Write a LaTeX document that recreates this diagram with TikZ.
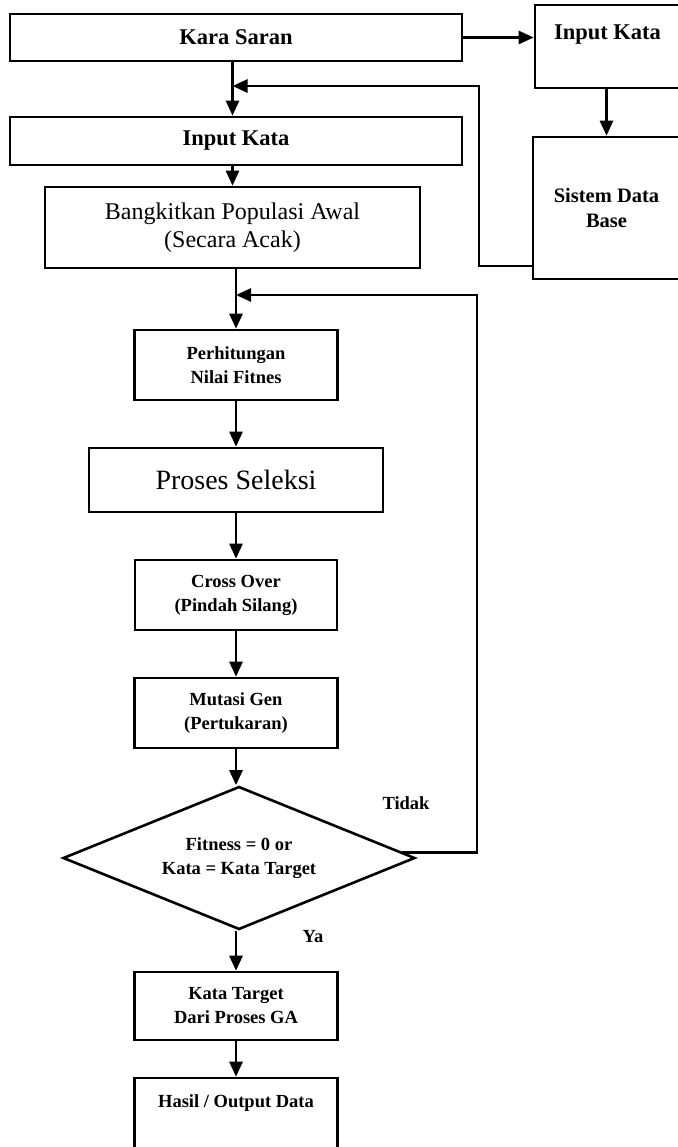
\documentclass[tikz,border=0pt]{standalone}
\usepackage{fontspec}
\setmainfont{Liberation Serif}
\usetikzlibrary{shapes.geometric,arrows.meta}
\begin{document}
\begin{tikzpicture}[x=1pt,y=-1pt,line width=2.6pt,
	kotak/.style={draw,inner sep=0pt,align=center},
	besar/.style={font=\bfseries\fontsize{22.5}{27}\selectfont},
	sedang/.style={font=\fontsize{24}{28}\selectfont},
	kecil/.style={font=\bfseries\fontsize{18.5}{24}\selectfont},
	panah/.style={-{Triangle[length=15pt,width=13pt]}}]
		\useasboundingbox (0,0) rectangle (677,1147);
		\node[kotak,besar,minimum width=452,minimum height=47] (kara) at (236,37.5) {Kara Saran};
		\node[kotak,besar,minimum width=145,text height=35pt,text depth=48pt,anchor=base] (inputb) at (607.5,40) {Input Kata};
		\node[kotak,font=\bfseries\fontsize{20.5}{25}\selectfont,minimum width=147,minimum height=142] (sistem) at (606.5,208) {Sistem Data\\Base};
		\node[kotak,besar,minimum width=452,minimum height=48] (inputa) at (236,141) {Input Kata};
		\node[kotak,sedang,minimum width=375,minimum height=81] (bangkit) at (232.5,227.5) {Bangkitkan Populasi Awal\\(Secara Acak)};
		\node[kotak,kecil,minimum width=203,minimum height=70] (hitung) at (236,365) {Perhitungan\\Nilai Fitnes};
		\node[kotak,font=\fontsize{28}{32}\selectfont,minimum width=294,minimum height=64] (seleksi) at (236,480) {Proses Seleksi};
		\node[kotak,kecil,minimum width=202,minimum height=70] (cross) at (236,595) {Cross Over\\(Pindah Silang)};
		\node[kotak,kecil,minimum width=203,minimum height=70] (mutasi) at (236,713) {Mutasi Gen\\(Pertukaran)};
		\node[kotak,kecil,diamond,aspect=2.46,minimum width=352,minimum height=143] (keputusan) at (239,858) {Fitness = 0 or\\Kata = Kata Target};
		\node[kotak,kecil,minimum width=203,minimum height=68] (target) at (236,1006) {Kata Target\\Dari Proses GA};
		\node[kotak,kecil,minimum width=203,text height=29pt,text depth=43pt,anchor=base] (hasil) at (236,1107) {Hasil / Output Data};
		\node[kecil] (tidak) at (406,803) {Tidak};
		\node[kecil] (ya) at (313,937) {Ya};
		\draw[panah] (kara.east) -- (inputb.west |- kara.east);
		\draw[panah] (sistem.north |- inputb.south) -- (sistem.north);
		\draw[panah] (bangkit.north |- kara.south) -- (bangkit.north |- inputa.north);
		\draw[panah] (bangkit.north |- inputa.south) -- (bangkit.north);
		\draw[panah] (hitung.north |- bangkit.south) -- (hitung.north);
		\draw[panah] (hitung) -- (seleksi);
		\draw[panah] (seleksi) -- (cross);
		\draw[panah] (cross) -- (mutasi);
		\draw[panah] (mutasi.south) -- (mutasi.south |- keputusan.north);
		\draw[panah] (target.north |- keputusan.south) -- (target.north);
		\draw[panah] (target) -- (hasil);
		\coordinate (atas) at (479,86);
		\draw[panah] (sistem.west |- 0,266) -| (atas) -- (bangkit.north |- atas);
		\coordinate (bawah) at (477,295);
		\draw[panah] (keputusan.2.4) -| (bawah) -- (hitung.north |- bawah);
\end{tikzpicture}
\end{document}
